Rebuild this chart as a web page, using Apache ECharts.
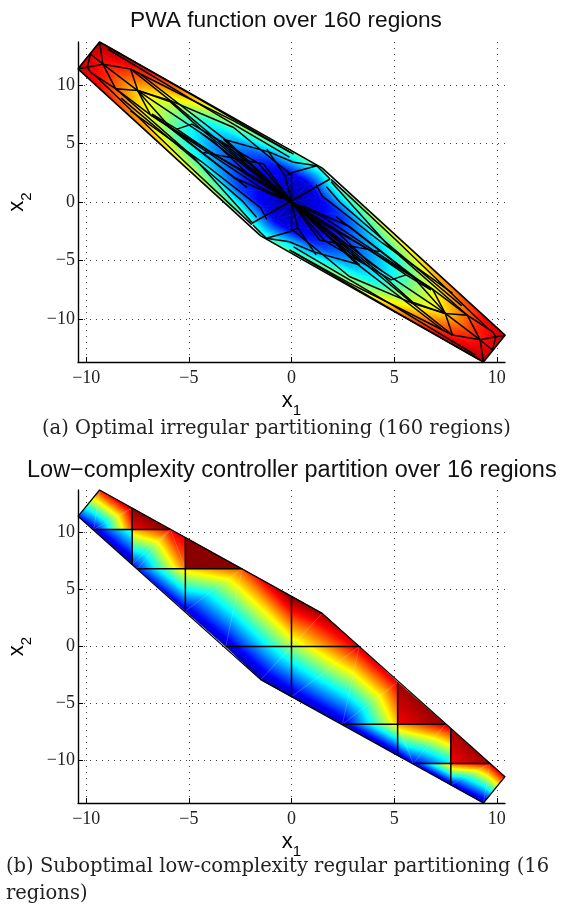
<!DOCTYPE html>
<html><head><meta charset="utf-8">
<script src="https://cdn.jsdelivr.net/npm/echarts@6/dist/echarts.min.js"></script>
<style>html,body{margin:0;padding:0;background:#fff}#c{width:571px;height:908px}</style></head>
<body><div id="c"></div>
<script>
const xTicks=[-10,-5,0,5,10];
const yTicks=[-10,-5,0,5,10];
const outline=[[-10.4,11.4],[-9.35,13.7],[1.5,2.9],[10.4,-11.4],[9.35,-13.7],[-1.5,-2.9],[-10.4,11.4]];
const jetStops=[[0,'#00008f'],[0.125,'#0000ff'],[0.375,'#00ffff'],[0.625,'#ffff00'],[0.875,'#ff0000'],[1,'#800000']];

// top chart: value mesh, rows across the long axis, each [x,y,value]
const topMesh=[
[[-9.35,13.7,.95],[-9.61,13.12,.93],[-9.88,12.55,.9],[-10.14,11.98,.92],[-10.4,11.4,.93]],
[[-8,12.35,.92],[-8.35,11.71,.86],[-8.7,11.07,.82],[-9.05,10.43,.84],[-9.4,9.79,.88]],
[[-6.5,10.86,.86],[-6.93,10.11,.74],[-7.35,9.36,.65],[-7.78,8.61,.7],[-8.2,7.86,.8]],
[[-5,9.37,.75],[-5.5,8.51,.58],[-6,7.65,.52],[-6.5,6.8,.56],[-7,5.94,.72]],
[[-3.5,7.88,.62],[-4.08,6.91,.4],[-4.65,5.94,.35],[-5.23,4.97,.42],[-5.8,4,.65]],
[[-2,6.38,.55],[-2.63,5.26,.3],[-3.25,4.14,.22],[-3.88,3.02,.32],[-4.5,1.9,.6]],
[[-.5,4.9,.48],[-1.18,3.63,.17],[-1.85,2.35,.11],[-2.53,1.08,.19],[-3.2,-.2,.52]],
[[1,3.4,.46],[.25,2.13,.1],[-.5,.85,.05],[-1.25,-.43,.1],[-2,-1.7,.42]],
[[1.5,2.9,.45],[.75,1.45,.08],[0,0,.02],[-.75,-1.45,.08],[-1.5,-2.9,.45]],
[[2,1.7,.42],[1.25,.43,.1],[.5,-.85,.05],[-.25,-2.13,.1],[-1,-3.4,.46]],
[[3.2,.2,.52],[2.53,-1.08,.19],[1.85,-2.35,.11],[1.18,-3.63,.17],[.5,-4.9,.48]],
[[4.5,-1.9,.6],[3.88,-3.02,.32],[3.25,-4.14,.22],[2.63,-5.26,.3],[2,-6.38,.55]],
[[5.8,-4,.65],[5.23,-4.97,.42],[4.65,-5.94,.35],[4.08,-6.91,.4],[3.5,-7.88,.62]],
[[7,-5.94,.72],[6.5,-6.8,.56],[6,-7.65,.52],[5.5,-8.51,.58],[5,-9.37,.75]],
[[8.2,-7.86,.8],[7.78,-8.61,.7],[7.35,-9.36,.65],[6.93,-10.11,.74],[6.5,-10.86,.86]],
[[9.4,-9.79,.88],[9.05,-10.43,.84],[8.7,-11.07,.82],[8.35,-11.71,.86],[8,-12.35,.92]],
[[10.4,-11.4,.93],[10.14,-11.98,.92],[9.88,-12.55,.9],[9.61,-13.12,.93],[9.35,-13.7,.95]]
];
// top chart: region boundaries
const topLines=[
[[-9.79,12.67],[-9.19,11.8]],[[-9.35,13.7],[-9.19,11.8]],[[-9.79,12.67],[-9.95,11.54],[-9.79,11.1]],
[[-10.4,11.4],[-9.95,11.54],[-9.19,11.8]],[[-9.19,11.8],[-8.57,9.7]],[[-9.79,11.1],[-8.57,9.7]],
[[-9.19,11.8],[-7.84,11.39]],[[-9.19,11.8],[-7.49,9.54]],[[-8.57,9.7],[-7.49,9.54]],[[-7.84,11.39],[-7.49,9.54]],
[[-7.49,9.54],[-5.9,8.68]],[[-7.84,11.39],[-5.9,8.68],[0,0]],[[-7.84,11.39],[-5.09,8.95],[-2.82,6.95],[-.06,4.25]],
[[-5.9,8.68],[-2.82,6.38],[-.06,2.39]],[[-9.14,13.5],[-4.76,9.09],[.1,4.1]],[[-8.95,13.1],[-4.9,8.8],[-.1,3.85]],
[[-7.36,10.94],[-3.14,5.24],[0,0]],[[-6.87,7.46],[0,0]],[[-7.49,9.54],[-6.87,7.46]],[[-8.57,9.7],[-6.87,7.46]],
[[-8.57,9.7],[-4.76,3.82],[-1.93,-1.74]],[[-9.63,10.94],[-5.09,3.25],[-1.93,-1.94]],
[[-6.87,7.46],[-3.95,4.1],[-1.52,1.25],[0,0]],[[-7.49,9.54],[-3.8,5.2],[-2,2.2],[0,0]],
[[-3.31,5.38],[0,0]],[[-4.28,4.25],[-1.36,3.25],[0,0]],[[-3.31,5.38],[-1.04,4.25],[.1,3.4]],
[[-7.44,9.52],[-5.9,8.57],[-4.44,6.27],[0,0]],[[-6.79,7.52],[-5.58,6.24],[-3.79,4.1],[-1.52,1.82],[0,0]],
[[-5.58,6.24],[-4.85,6.67],[-3.47,5.24],[-2,3.2],[0,0]],[[-3.47,5.24],[-1.6,3.3],[0,0]],[[-4.4,5.9],[-2.6,3.5],[0,0]],
[[-7.5,9.52],[-5.9,6.38],[-2.17,1.25]],[[-7.84,7.8],[-4.44,3.53],[-1.5,-.5],[-1.2,-1.5]],[[-6.79,7.52],[-2.82,2.1],[-.5,.3]],
[[-8.3,8.9],[-4.9,3.9],[-2.4,.1],[-1.7,-1.3]],
[[-1.93,-1.82],[1.88,1.97]],[[0,0],[-.3,2.2]],[[0,0],[0,2.5]],[[0,2.5],[-.3,2.2]],[[0,2.5],[1.23,3.1],[1.88,1.97]],
[[-1.2,4.53],[-.3,2.2]],[[.1,3.4],[1.23,3.1]],
[[9.79,-12.67],[9.19,-11.8]],[[9.35,-13.7],[9.19,-11.8]],[[9.79,-12.67],[9.95,-11.54],[9.79,-11.1]],
[[10.4,-11.4],[9.95,-11.54],[9.19,-11.8]],[[9.19,-11.8],[8.57,-9.7]],[[9.79,-11.1],[8.57,-9.7]],
[[9.19,-11.8],[7.84,-11.39]],[[9.19,-11.8],[7.49,-9.54]],[[8.57,-9.7],[7.49,-9.54]],[[7.84,-11.39],[7.49,-9.54]],
[[7.49,-9.54],[5.9,-8.68]],[[7.84,-11.39],[5.9,-8.68],[0,0]],[[7.84,-11.39],[5.09,-8.95],[2.82,-6.95],[.06,-4.25]],
[[5.9,-8.68],[2.82,-6.38],[.06,-2.39]],[[9.14,-13.5],[4.76,-9.09],[-.1,-4.1]],[[8.95,-13.1],[4.9,-8.8],[.1,-3.85]],
[[7.36,-10.94],[3.14,-5.24],[0,0]],[[6.87,-7.46],[0,0]],[[7.49,-9.54],[6.87,-7.46]],[[8.57,-9.7],[6.87,-7.46]],
[[8.57,-9.7],[4.76,-3.82],[1.93,1.74]],[[9.63,-10.94],[5.09,-3.25],[1.93,1.94]],
[[6.87,-7.46],[3.95,-4.1],[1.52,-1.25],[0,0]],[[7.49,-9.54],[3.8,-5.2],[2,-2.2],[0,0]],
[[3.31,-5.38],[0,0]],[[4.28,-4.25],[1.36,-3.25],[0,0]],[[3.31,-5.38],[1.04,-4.25],[-.1,-3.4]],
[[7.44,-9.52],[5.9,-8.57],[4.44,-6.27],[0,0]],[[6.79,-7.52],[5.58,-6.24],[3.79,-4.1],[1.52,-1.82],[0,0]],
[[5.58,-6.24],[4.85,-6.67],[3.47,-5.24],[2,-3.2],[0,0]],[[3.47,-5.24],[1.6,-3.3],[0,0]],[[4.4,-5.9],[2.6,-3.5],[0,0]],
[[7.5,-9.52],[5.9,-6.38],[2.17,-1.25]],[[7.84,-7.8],[4.44,-3.53],[1.5,.5],[1.2,1.5]],[[6.79,-7.52],[2.82,-2.1],[.5,-.3]],
[[8.3,-8.9],[4.9,-3.9],[2.4,-.1],[1.7,1.3]],
[[0,0],[.3,-2.2]],[[0,0],[0,-2.5]],[[0,-2.5],[.3,-2.2]],[[0,-2.5],[-1.23,-3.1],[-1.88,-1.97]],
[[1.2,-4.53],[.3,-2.2]],[[-.1,-3.4],[-1.23,-3.1]]
];

// bottom chart: triangles, three vertices [x,y,value]
const lowTriangles=[
[[-10.4,11.4,.15],[-9.35,13.7,.85],[-9.63,10.25,.08]],
[[-9.63,10.25,.08],[-9.35,13.7,.85],[-7.76,12.12,.95]],
[[-9.63,10.25,.08],[-7.76,12.12,.95],[-7.76,10.25,.8]],
[[-9.63,10.25,.08],[-7.76,10.25,.45],[-7.76,7.2,.03]],
[[-7.76,12.12,.99],[-5.9,10.25,.99],[-7.76,10.25,.88]],
[[-7.76,10.25,.7],[-5.9,10.25,.88],[-7.76,7.2,.15]],
[[-7.76,7.2,.15],[-5.9,10.25,.88],[-7.5,6.8,.15]],
[[-7.5,6.8,.15],[-5.9,10.25,.88],[-5.17,6.8,.75]],
[[-5.9,10.25,.88],[-5.17,9.55,.9],[-5.17,6.8,.75]],
[[-7.5,6.8,.15],[-5.17,6.8,.68],[-5.17,3.1,.08]],
[[-5.17,9.55,.99],[-2.4,6.8,.99],[-5.17,6.8,.99]],
[[-5.17,6.8,.66],[-2.4,6.8,.8],[-5.17,3.1,.08]],
[[-5.17,3.1,.08],[-2.4,6.8,.8],[-3.2,0,.05]],
[[-3.2,0,.05],[-2.4,6.8,.8],[0,0,.55]],
[[-2.4,6.8,.8],[0,4.4,1],[0,0,.55]],
[[0,0,.55],[0,4.4,1],[1.5,2.9,.97]],
[[0,0,.55],[1.5,2.9,.97],[3.3,0,.9]],
[[-3.2,0,.05],[0,0,.52],[-1.5,-2.9,.03]],
[[-1.5,-2.9,.03],[0,0,.52],[0,-4.4,.05]],
[[0,0,.52],[3.3,0,.92],[0,-4.4,.05]],
[[0,-4.4,.05],[3.3,0,.92],[2.48,-6.8,.06]],
[[2.48,-6.8,.06],[3.3,0,.92],[5.17,-3.14,.9]],
[[2.48,-6.8,.06],[5.17,-3.14,.9],[5.17,-6.8,.68]],
[[2.48,-6.8,.06],[5.17,-6.8,.68],[5.17,-9.54,.04]],
[[5.17,-3.14,.97],[7.5,-6.8,.98],[5.17,-6.8,.88]],
[[5.17,-6.8,.72],[7.5,-6.8,.92],[5.93,-10.25,.1]],
[[7.5,-6.8,.92],[7.76,-7.2,.88],[5.93,-10.25,.1]],
[[7.76,-7.2,.88],[7.76,-10.25,.35],[5.93,-10.25,.1]],
[[5.17,-6.8,.72],[5.93,-10.25,.1],[5.17,-9.54,.06]],
[[7.76,-7.2,.96],[9.66,-10.25,.97],[7.76,-10.25,.88]],
[[5.93,-10.25,.1],[7.76,-10.25,.7],[7.76,-12.12,.05]],
[[7.76,-10.25,.78],[9.66,-10.25,.9],[7.76,-12.12,.08]],
[[7.76,-12.12,.08],[9.66,-10.25,.9],[9.35,-13.7,.03]],
[[9.35,-13.7,.03],[9.66,-10.25,.9],[10.4,-11.4,.9]]
];
// bottom chart: the regular partition lines
const lowLines=[
[[-7.76,12.12],[-7.76,7.2]],[[-5.17,9.55],[-5.17,3.1]],[[0,4.4],[0,-4.4]],[[5.17,-3.14],[5.17,-9.54]],[[7.76,-7.2],[7.76,-12.12]],
[[-9.63,10.25],[-5.9,10.25]],[[-7.5,6.8],[-2.4,6.8]],[[-3.2,0],[3.3,0]],[[2.48,-6.8],[7.5,-6.8]],[[5.93,-10.25],[9.66,-10.25]]
];
// bottom chart: faint seams inside the regions
const lowSeams=[
[[-9.63,10.25],[-9.35,13.7]],[[-9.63,10.25],[-7.76,12.12]],[[-7.76,7.2],[-5.9,10.25]],[[-7.5,6.8],[-5.9,10.25]],[[-5.9,10.25],[-5.17,6.8]],
[[-5.17,3.1],[-2.4,6.8]],[[-3.2,0],[-2.4,6.8]],[[0,0],[1.5,2.9]],[[0,0],[-1.5,-2.9]],[[0,-4.4],[3.3,0]],[[2.48,-6.8],[3.3,0]],
[[2.48,-6.8],[5.17,-3.14]],[[5.17,-6.8],[5.93,-10.25]],[[5.93,-10.25],[7.5,-6.8]],[[7.76,-12.12],[9.66,-10.25]],[[9.35,-13.7],[9.66,-10.25]]
];

function meshTriangles(rows){
  const out=[];
  for(let i=0;i<rows.length-1;i++)for(let j=0;j<rows[i].length-1;j++){
    out.push([rows[i][j],rows[i][j+1],rows[i+1][j]]);
    out.push([rows[i][j+1],rows[i+1][j+1],rows[i+1][j]]);
  }
  return out;
}
function jetColor(v){
  const c=[[0,0,143],[0,0,255],[0,255,255],[255,255,0],[255,0,0],[128,0,0]];
  v=Math.max(0,Math.min(1,v));let i=0;
  while(i<jetStops.length-2&&v>jetStops[i+1][0])i++;
  const t=(v-jetStops[i][0])/(jetStops[i+1][0]-jetStops[i][0]);
  return 'rgb('+c[i].map((a,k)=>Math.round(a+(c[i+1][k]-a)*t)).join(',')+')';
}
function triangleSeries(tris,idx){
  return {type:'custom',xAxisIndex:idx,yAxisIndex:idx,coordinateSystem:'cartesian2d',silent:true,z:3,clip:false,
    data:tris.map((t,i)=>[t[0][0],t[0][1],i]),
    renderItem:function(params,api){
      const t=tris[api.value(2)];
      const p=t.map(v=>api.coord([v[0],v[1]]));
      const v=t.map(q=>q[2]);
      const a=p[1][0]-p[0][0],b=p[1][1]-p[0][1],c=p[2][0]-p[0][0],d=p[2][1]-p[0][1];
      const det=a*d-b*c,dv1=v[1]-v[0],dv2=v[2]-v[0];
      const gx=(d*dv1-b*dv2)/det,gy=(a*dv2-c*dv1)/det,n=gx*gx+gy*gy;
      let fill;
      if(n<1e-9){fill=jetColor(v[0]);}
      else{
        const x0=p[0][0]-v[0]*gx/n,y0=p[0][1]-v[0]*gy/n;
        fill=new echarts.graphic.LinearGradient(x0,y0,x0+gx/n,y0+gy/n,jetStops.map(s=>({offset:s[0],color:s[1]})),true);
      }
      return {type:'polygon',shape:{points:p},style:{fill:fill,stroke:fill,lineWidth:.7}};
    }};
}
function lineSeries(lines,idx,color,width,z){
  return {type:'custom',xAxisIndex:idx,yAxisIndex:idx,coordinateSystem:'cartesian2d',silent:true,z:z,clip:false,
    data:lines.map((l,i)=>[l[0][0],l[0][1],i]),
    renderItem:function(params,api){
      return {type:'polyline',shape:{points:lines[api.value(2)].map(q=>api.coord(q))},
        style:{fill:null,stroke:color,lineWidth:width,lineJoin:'round'}};
    }};
}
const minus=v=>v<0?'\u2212'+Math.abs(v):String(v);
const serif='"Liberation Serif"',sans='"Liberation Sans"',capFont='"DejaVu Serif"';
const nameRich={a:{fontFamily:sans,fontSize:22,color:'#000',lineHeight:28,verticalAlign:'top'},
                b:{fontFamily:sans,fontSize:15,color:'#000',lineHeight:28,verticalAlign:'bottom'}};
function xAx(idx,grid){return {type:'value',gridIndex:grid,min:-10.4,max:10.4,
  name:'{a|x}{b|1}',nameLocation:'middle',nameGap:28,nameTextStyle:{rich:nameRich},
  axisLine:{onZero:false,lineStyle:{color:'#000',width:1.4}},
  axisTick:{inside:true,length:5,customValues:xTicks,lineStyle:{color:'#000',width:1}},
  axisLabel:{customValues:xTicks,formatter:minus,fontFamily:serif,fontSize:18,color:'#222',margin:7},
  splitLine:{show:true,customValues:xTicks,lineStyle:{color:'#444',width:1,type:[1,5]}}};}
function yAx(idx,grid){return {type:'value',gridIndex:grid,min:-13.7,max:13.7,
  name:'{a|x}{b|2}',nameLocation:'middle',nameGap:44,nameRotate:90,nameTextStyle:{rich:nameRich},
  axisLine:{onZero:false,lineStyle:{color:'#000',width:1.4}},
  axisTick:{inside:true,length:5,customValues:yTicks,lineStyle:{color:'#000',width:1}},
  axisLabel:{customValues:yTicks,formatter:minus,fontFamily:serif,fontSize:18,color:'#222',margin:3},
  splitLine:{show:true,customValues:yTicks,lineStyle:{color:'#444',width:1,type:[1,5]}}};}
const chart=echarts.init(document.getElementById('c'),null,{renderer:'canvas'});
chart.setOption({animation:false,backgroundColor:'#fff',
  title:[
    {text:'PWA function over 160 regions',left:281,textAlign:'center',top:4,textStyle:{fontFamily:sans,fontSize:22.7,fontWeight:'normal',color:'#111'}},
    {text:'(a) Optimal irregular partitioning (160 regions)',left:37,top:414,textStyle:{fontFamily:capFont,fontSize:19.5,fontWeight:'normal',color:'#222'}},
    {text:'Low\u2212complexity controller partition over 16 regions',left:22,top:454,textStyle:{fontFamily:sans,fontSize:23.5,fontWeight:'normal',color:'#111'}},
    {text:'(b) Suboptimal low-complexity regular partitioning (16',left:1,top:852,textStyle:{fontFamily:capFont,fontSize:19.5,fontWeight:'normal',color:'#222'}},
    {text:'regions)',left:1,top:879,textStyle:{fontFamily:capFont,fontSize:19.5,fontWeight:'normal',color:'#222'}}
  ],
  grid:[{left:78,width:427,top:42,height:320,outerBoundsMode:'none'},{left:78,width:427,top:490,height:313,outerBoundsMode:'none'}],
  xAxis:[xAx(0,0),xAx(1,1)],yAxis:[yAx(0,0),yAx(1,1)],
  series:[
    triangleSeries(meshTriangles(topMesh),0),
    lineSeries(topLines,0,'#000',1.5,5),
    lineSeries([outline],0,'#000',1.6,6),
    triangleSeries(lowTriangles,1),
    lineSeries(lowSeams,1,'rgba(225,235,255,.28)',.7,4),
    lineSeries(lowLines,1,'#000',1.5,5),
    lineSeries([outline],1,'#000',1.2,6)
  ]});
</script></body></html>
